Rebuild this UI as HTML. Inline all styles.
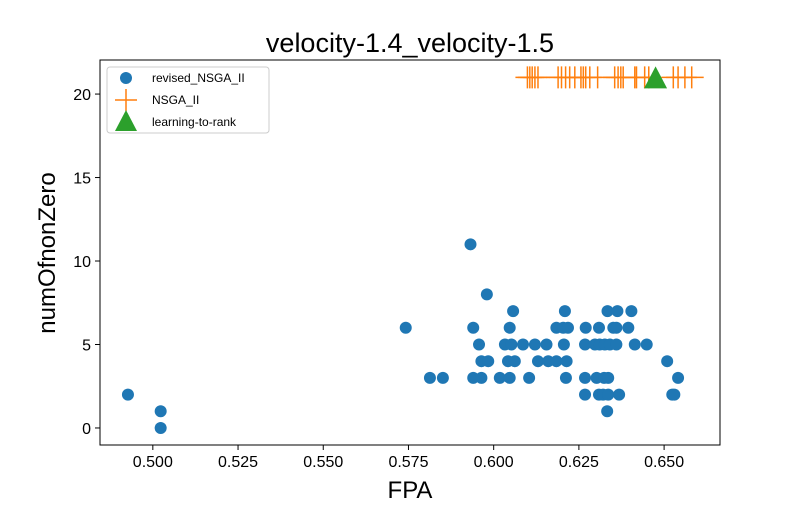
<!DOCTYPE html>
<html><head><meta charset="utf-8"><style>body{margin:0;background:#fff}svg{font-family:"Liberation Sans","DejaVu Sans",sans-serif}</style></head>
<body>
<svg id="chart" width="800" height="500" xmlns="http://www.w3.org/2000/svg">
<rect width="800" height="500" fill="#fff"/>
<text x="410" y="52" font-size="27" text-anchor="middle">velocity-1.4_velocity-1.5</text>
<g id="plot"></g>
<rect x="100" y="60" width="620" height="385" fill="none" stroke="#000" stroke-width="1"/>
<text x="410" y="498" font-size="24" text-anchor="middle">FPA</text>
<text transform="translate(55,253) rotate(-90)" font-size="24" text-anchor="middle">numOfnonZero</text>
<g>
<rect x="107" y="67" width="162" height="66" rx="3" fill="#fff" fill-opacity="0.8" stroke="#ccc"/>
<circle cx="126" cy="78" r="6" fill="#1f77b4"/>
<text x="152" y="82" font-size="12">revised_NSGA_II</text>
<path d="M115 100 H137 M126 89 V111" stroke="#ff7f0e" stroke-width="1.5"/>
<text x="152" y="104" font-size="12">NSGA_II</text>
<path d="M126 110 L137 131 L115 131 Z" fill="#2ca02c"/>
<text x="152" y="126" font-size="12">learning-to-rank</text>
</g>
</svg>
<script>
const revisedX = [0.4927,0.5023,0.5023,0.5932,0.5980,
0.6057,0.6209,0.6334,0.6363,0.6404,
0.5742,0.5940,0.6047,0.6184,0.6204,0.6218,0.6270,0.6309,0.6351,0.6360,0.6395,
0.5957,0.6033,0.6052,0.6086,0.6121,0.6155,0.6206,0.6268,0.6297,0.6311,0.6326,0.6341,0.6360,0.6414,0.6449,
0.5964,0.5984,0.6042,0.6062,0.6130,0.6160,0.6184,0.6214,0.6509,
0.5813,0.5851,0.5940,0.5964,0.6018,0.6047,0.6104,0.6212,0.6268,0.6302,0.6324,0.6336,0.6541,
0.6268,0.6309,0.6321,0.6336,0.6368,0.6524,0.6530,
0.6333];
const revisedY = [2,1,0,11,8,
7,7,7,7,7,
6,6,6,6,6,6,6,6,6,6,6,
5,5,5,5,5,5,5,5,5,5,5,5,5,5,5,
4,4,4,4,4,4,4,4,4,
3,3,3,3,3,3,3,3,3,3,3,3,3,
2,2,2,2,2,2,2,
1];
const nsgaX = [0.6099,0.6106,0.6113,0.6121,0.6130,0.6189,0.6199,0.6211,0.6223,0.6238,0.6256,0.6263,0.6270,0.6282,0.6305,0.6355,0.6365,0.6373,0.6380,0.6414,0.6419,0.6443,0.6455,0.6527,0.6541,0.6561,0.6581];
const nsgaY = 21;
const ltrX = [0.6475];
const ltrY = [21];
const xTicks = [0.500,0.525,0.550,0.575,0.600,0.625,0.650];
const xTickLabels = ["0.500","0.525","0.550","0.575","0.600","0.625","0.650"];
const yTicks = [0,5,10,15,20];
const yTickLabels = ["0","5","10","15","20"];

const X0=100,X1=720,Y0=60,Y1=445;
const xMin=0.4845,xMax=0.6664,yMin=-1.02,yMax=22.04;
const sx=v=>X0+(v-xMin)/(xMax-xMin)*(X1-X0);
const sy=v=>Y1-(v-yMin)/(yMax-yMin)*(Y1-Y0);
const NS="http://www.w3.org/2000/svg";
const g=document.getElementById('plot');
function mk(t,a){const e=document.createElementNS(NS,t);for(const k in a)e.setAttribute(k,a[k]);g.appendChild(e);return e;}
xTicks.forEach((v,i)=>{
  const l=mk('line',{x1:sx(v),x2:sx(v),y1:Y1,y2:Y1+5,stroke:'#000'});
  
  
  const t=mk('text',{x:sx(v),y:Y1+22,'font-size':16,'text-anchor':'middle'});
  t.textContent=xTickLabels[i];
  
  
});
yTicks.forEach((v,i)=>{
  const l=mk('line',{x1:X0-5,x2:X0,y1:sy(v),y2:sy(v),stroke:'#000'});
  
  
  const t=mk('text',{x:X0-9,y:sy(v)+6,'font-size':16,'text-anchor':'end'});
  t.textContent=yTickLabels[i];
  
  
});
revisedX.forEach((v,i)=>{
  const c=mk('circle',{cx:sx(v),cy:sy(revisedY[i]),r:6,fill:'#1f77b4'});
  
  
});
nsgaX.forEach(v=>{
  const x=sx(v),y=sy(nsgaY);
  const p=mk('path',{d:`M${x-12} ${y} H${x+12} M${x} ${y-11} V${y+11}`,stroke:'#ff7f0e','stroke-width':1.5});
  
  
});
ltrX.forEach((v,i)=>{
  const x=sx(v),y=sy(ltrY[i]);
  const p=mk('path',{d:`M${x} ${y-11} L${x+11.5} ${y+11} L${x-11.5} ${y+11} Z`,fill:'#2ca02c'});
  
  
});
</script>
</body></html>
